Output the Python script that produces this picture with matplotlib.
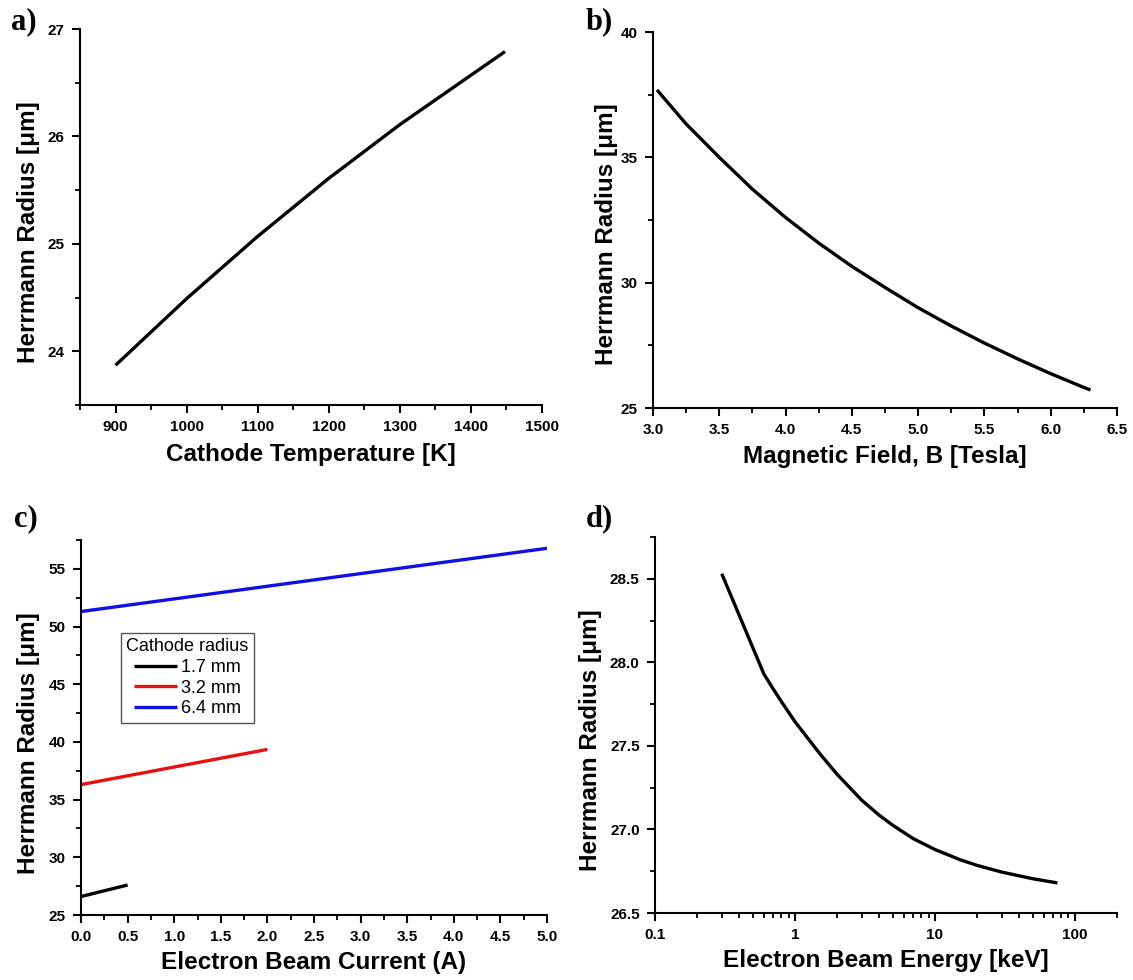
import numpy as np
import matplotlib
matplotlib.use("Agg")
import matplotlib.pyplot as plt
from matplotlib.ticker import MultipleLocator, FixedLocator, FuncFormatter, NullFormatter

# ---- data -------------------------------------------------------------
# a) Herrmann radius vs cathode temperature
temp_K = [900, 1000, 1100, 1200, 1300, 1400, 1448]
radius_temp = [23.87, 24.49, 25.07, 25.61, 26.11, 26.57, 26.79]

# b) Herrmann radius vs magnetic field
field_T = [3.03, 3.25, 3.5, 3.75, 4.0, 4.25, 4.5, 4.75, 5.0, 5.25, 5.5, 5.75, 6.0, 6.25, 6.3]
radius_field = [37.69, 36.33, 35.00, 33.73, 32.60, 31.58, 30.65, 29.81, 29.00, 28.27,
                27.59, 26.96, 26.37, 25.82, 25.72]

# c) Herrmann radius vs beam current for three cathode radii
cathode_labels = ["1.7 mm", "3.2 mm", "6.4 mm"]
cathode_colors = ["#000000", "#e81010", "#1010e0"]
current_17 = [0.0, 0.5]
radius_17 = [26.6, 27.6]
current_32 = [0.0, 2.0]
radius_32 = [36.3, 39.35]
current_64 = [0.0, 5.0]
radius_64 = [51.3, 56.78]

# d) Herrmann radius vs beam energy
energy_keV = [0.3, 0.6, 0.7, 0.8, 1.0, 1.5, 2.0, 3.0, 4.0, 5.0, 7.0, 10.0, 15.0, 20.0,
              30.0, 50.0, 75.0]
radius_energy = [28.53, 27.93, 27.84, 27.765, 27.645, 27.455, 27.33, 27.175, 27.085,
                 27.025, 26.945, 26.88, 26.82, 26.785, 26.745, 26.705, 26.68]

# ---- style ------------------------------------------------------------
W, H = 1133, 980
fig = plt.figure(figsize=(W / 100, H / 100), dpi=100)
fig.patch.set_facecolor("white")

SANS = ["Liberation Sans", "DejaVu Sans"]
SERIF = ["Liberation Serif", "DejaVu Serif"]
TICK_FS = 11
LABEL_FS = 17.5
LW = 2.4


def box(l, t, r, b):
    return [l / W, 1 - b / H, (r - l) / W, (b - t) / H]


def style_axes(ax):
    for side in ("top", "right"):
        ax.spines[side].set_visible(False)
    for side in ("left", "bottom"):
        ax.spines[side].set_linewidth(1.5)
    ax.tick_params(which="major", direction="out", length=6, width=1.5, pad=5,
                   labelsize=TICK_FS)
    ax.tick_params(which="minor", direction="out", length=3.5, width=1.3)
    for lab in ax.get_xticklabels() + ax.get_yticklabels():
        lab.set_fontfamily(SANS)
        lab.set_fontweight("bold")


def set_labels(ax, xlabel, ylabel_x, ylabel_y, xlabel_y):
    pos = ax.get_position()
    fig.text((pos.x0 + pos.x1) / 2, 1 - xlabel_y / H, xlabel, fontsize=LABEL_FS,
             fontweight="bold", family=SANS, ha="center", va="center")
    fig.text(ylabel_x / W, 1 - ylabel_y / H, "Herrmann Radius [\u03bcm]",
             rotation=90, fontsize=LABEL_FS, fontweight="bold", family=SANS,
             ha="center", va="center")


# ---- a) ---------------------------------------------------------------
ax_a = fig.add_axes(box(80, 29, 542, 405))
ax_a.plot(temp_K, radius_temp, color="black", lw=LW, solid_capstyle="butt")
ax_a.set_xlim(850, 1500)
ax_a.set_ylim(23.5, 27)
ax_a.xaxis.set_major_locator(FixedLocator([900, 1000, 1100, 1200, 1300, 1400, 1500]))
ax_a.xaxis.set_minor_locator(MultipleLocator(50))
ax_a.yaxis.set_major_locator(FixedLocator([24, 25, 26, 27]))
ax_a.yaxis.set_minor_locator(MultipleLocator(0.5))
style_axes(ax_a)
set_labels(ax_a, "Cathode Temperature [K]", 29, 232, 454)

# ---- b) ---------------------------------------------------------------
ax_b = fig.add_axes(box(653, 32, 1117, 408))
ax_b.plot(field_T, radius_field, color="black", lw=LW, solid_capstyle="butt")
ax_b.set_xlim(3.0, 6.5)
ax_b.set_ylim(25, 40)
ax_b.xaxis.set_major_locator(MultipleLocator(0.5))
ax_b.xaxis.set_minor_locator(MultipleLocator(0.25))
ax_b.xaxis.set_major_formatter(FuncFormatter(lambda v, p: f"{v:.1f}"))
ax_b.yaxis.set_major_locator(MultipleLocator(5))
ax_b.yaxis.set_minor_locator(MultipleLocator(2.5))
style_axes(ax_b)
set_labels(ax_b, "Magnetic Field, B [Tesla]", 606, 234, 457)

# ---- c) ---------------------------------------------------------------
ax_c = fig.add_axes(box(81, 540, 547, 915))
for xs, ys, lab, col in zip([current_17, current_32, current_64],
                            [radius_17, radius_32, radius_64],
                            cathode_labels, cathode_colors):
    ax_c.plot(xs, ys, color=col, lw=LW, label=lab, solid_capstyle="butt")
ax_c.set_xlim(0, 5.0)
ax_c.set_ylim(25, 57.5)
ax_c.xaxis.set_major_locator(MultipleLocator(0.5))
ax_c.xaxis.set_minor_locator(MultipleLocator(0.25))
ax_c.xaxis.set_major_formatter(FuncFormatter(lambda v, p: f"{v:.1f}"))
ax_c.yaxis.set_major_locator(MultipleLocator(5))
ax_c.yaxis.set_minor_locator(MultipleLocator(2.5))
style_axes(ax_c)
set_labels(ax_c, "Electron Beam Current (A)", 29, 743, 962)
leg = ax_c.legend(title="Cathode radius", loc="upper left",
                  bbox_to_anchor=((121 - 81) / 466, (915 - 633) / 375),
                  prop={"family": SANS, "size": 13},
                  title_fontproperties={"family": SANS, "size": 13},
                  frameon=True, fancybox=False, framealpha=1, edgecolor="#555555",
                  handlelength=2.4, handletextpad=0.25, borderpad=0.3,
                  labelspacing=0.2, borderaxespad=0)
leg.get_frame().set_linewidth(1.0)

# ---- d) ---------------------------------------------------------------
ax_d = fig.add_axes(box(655, 537, 1117, 913))
ax_d.plot(energy_keV, radius_energy, color="black", lw=LW, solid_capstyle="butt")
ax_d.set_xscale("log")
ax_d.set_xlim(0.1, 200)
ax_d.set_ylim(26.5, 28.75)
ax_d.xaxis.set_major_locator(FixedLocator([0.1, 1, 10, 100]))
ax_d.xaxis.set_major_formatter(FuncFormatter(lambda v, p: f"{v:g}"))
minor_e = [m * 10.0 ** k for k in (-1, 0, 1, 2) for m in range(2, 10) if m * 10.0 ** k <= 200]
ax_d.xaxis.set_minor_locator(FixedLocator(minor_e))
ax_d.xaxis.set_minor_formatter(NullFormatter())
ax_d.yaxis.set_major_locator(MultipleLocator(0.5))
ax_d.yaxis.set_minor_locator(MultipleLocator(0.25))
ax_d.yaxis.set_major_formatter(FuncFormatter(lambda v, p: f"{v:.1f}"))
style_axes(ax_d)
set_labels(ax_d, "Electron Beam Energy [keV]", 591, 740, 960)

# ---- panel letters ----------------------------------------------------
for letter, x, y in [("a)", 11, 22), ("b)", 586, 22), ("c)", 14, 519), ("d)", 586, 519)]:
    fig.text(x / W, 1 - y / H, letter, fontsize=22, fontweight="bold",
             family=SERIF, ha="left", va="center")

fig.savefig("out.png", dpi=100, facecolor="white")
